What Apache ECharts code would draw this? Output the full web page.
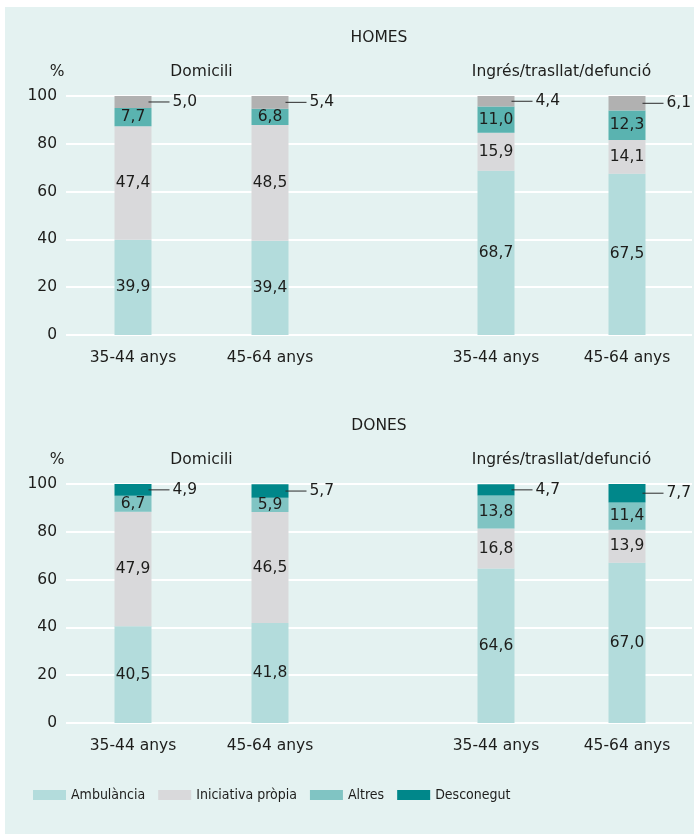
<!DOCTYPE html>
<html>
<head>
<meta charset="utf-8">
<script src="https://cdn.jsdelivr.net/npm/echarts@6/dist/echarts.min.js"></script>
<style>
html,body{margin:0;padding:0;background:#fff;}
#bg{position:absolute;left:5px;top:7px;width:689px;height:827px;background:#e4f2f1;}
#chart{position:absolute;left:0;top:0;width:694px;height:834px;}
</style>
</head>
<body>
<div id="bg"></div>
<div id="chart"></div>
<script>
// ---- data ----
const ageGroups = ['35-44 anys', '45-64 anys'];
const seriesNames = ['Ambulància', 'Iniciativa pròpia', 'Altres', 'Desconegut'];
const yTicks = [0, 20, 40, 60, 80, 100];
const panelTitles = ['HOMES', 'DONES'];
const groupTitles = ['Domicili', 'Ingrés/trasllat/defunció'];

// HOMES
const homesDomAmbulancia = [39.9, 39.4];
const homesDomIniciativa = [47.4, 48.5];
const homesDomAltres = [7.7, 6.8];
const homesDomDesconegut = [5.0, 5.4];
const homesIngAmbulancia = [68.7, 67.5];
const homesIngIniciativa = [15.9, 14.1];
const homesIngAltres = [11.0, 12.3];
const homesIngDesconegut = [4.4, 6.1];
// DONES
const donesDomAmbulancia = [40.5, 41.8];
const donesDomIniciativa = [47.9, 46.5];
const donesDomAltres = [6.7, 5.9];
const donesDomDesconegut = [4.9, 5.7];
const donesIngAmbulancia = [64.6, 67.0];
const donesIngIniciativa = [16.8, 13.9];
const donesIngAltres = [13.8, 11.4];
const donesIngDesconegut = [4.7, 7.7];

// ---- styles ----
const FONT = 'DejaVu Sans';
const FS = 15.5;
const TXT = '#1d1d1b';
const colorsDones = ['#b3dcdc', '#d9d9db', '#80c4c3', '#00878a'];
const colorsHomes = ['#b3dcdc', '#d9d9db', '#5ab3b0', '#b1b1b1'];
const fmt = v => v.toFixed(1).replace('.', ',');

const panels = [
  { top: 484, title: panelTitles[1], colors: colorsDones,
    groups: [[donesDomAmbulancia, donesDomIniciativa, donesDomAltres, donesDomDesconegut],
             [donesIngAmbulancia, donesIngIniciativa, donesIngAltres, donesIngDesconegut]] },
  { top: 96, title: panelTitles[0], colors: colorsHomes,
    groups: [[homesDomAmbulancia, homesDomIniciativa, homesDomAltres, homesDomDesconegut],
             [homesIngAmbulancia, homesIngIniciativa, homesIngAltres, homesIngDesconegut]] }
];

const grid = [], xAxis = [], yAxis = [], series = [], graphic = [];
const H = 239;
const groupGeom = [{ left: 64.5, width: 274 }, { left: 430.5, width: 262 }];

panels.forEach((p, pi) => {
  const gBg = grid.length;
  grid.push({ left: 66, right: 2, top: p.top, height: H });
  xAxis.push({ gridIndex: gBg, type: 'value', min: 0, max: 1, show: false });
  yAxis.push({
    gridIndex: gBg, type: 'value', min: yTicks[0], max: yTicks[yTicks.length - 1], interval: 20,
    axisLine: { show: false }, axisTick: { show: false },
    axisLabel: { margin: 9, fontFamily: FONT, fontSize: FS, color: TXT },
    splitLine: { lineStyle: { color: '#ffffff', width: 1.8 } }
  });
  graphic.push({ type: 'text', x: 379, y: p.top - 58, style: { text: p.title, fontFamily: FONT, fontSize: FS, fill: TXT, textAlign: 'center', textVerticalAlign: 'middle' } });
  graphic.push({ type: 'text', x: 57, y: p.top - 24, style: { text: '%', fontFamily: FONT, fontSize: FS, fill: TXT, textAlign: 'center', textVerticalAlign: 'middle' } });

  p.groups.forEach((grp, gi) => {
    const gIdx = grid.length;
    grid.push({ left: groupGeom[gi].left, width: groupGeom[gi].width, top: p.top, height: H });
    xAxis.push({
      gridIndex: gIdx, type: 'category', data: ageGroups,
      axisLine: { show: false }, axisTick: { show: false },
      axisLabel: { margin: 15, fontFamily: FONT, fontSize: FS, color: TXT }
    });
    yAxis.push({ gridIndex: gIdx, type: 'value', min: 0, max: 100, show: false, splitLine: { show: false } });
    graphic.push({ type: 'text', x: groupGeom[gi].left + groupGeom[gi].width / 2, y: p.top - 24,
      style: { text: groupTitles[gi], fontFamily: FONT, fontSize: FS, fill: TXT, textAlign: 'center', textVerticalAlign: 'middle' } });
    const stackId = 's' + pi + '_' + gi;
    grp.forEach((vals, si) => {
      const isLast = si === 3;
      series.push({
        type: 'bar', name: seriesNames[si], xAxisIndex: gIdx, yAxisIndex: gIdx,
        stack: stackId, barWidth: 37, data: vals,
        itemStyle: { color: p.colors[si] },
        emphasis: { disabled: true },
        label: isLast ? {
          show: true, position: 'right', distance: 0, offset: [-3, 0],
          formatter: prm => '{l|}{v|' + fmt(prm.value) + '}',
          rich: {
            l: { width: 21, height: 1, backgroundColor: '#2a2a2a' },
            v: { padding: [0, 0, 0, 3], fontFamily: FONT, fontSize: FS, color: TXT }
          }
        } : {
          show: true, position: 'inside', fontFamily: FONT, fontSize: FS, color: TXT,
          formatter: prm => fmt(prm.value)
        }
      });
    });
  });
});

const chart = echarts.init(document.getElementById('chart'), null, { renderer: 'canvas' });
chart.setOption({
  animation: false,
  backgroundColor: 'transparent',
  grid, xAxis, yAxis, series, graphic,
  legend: {
    data: seriesNames, left: 33, top: 788, padding: 0, itemWidth: 33, itemHeight: 10, itemGap: 13,
    icon: 'rect', selectedMode: false,
    textStyle: { fontFamily: 'DejaVu Sans Condensed, DejaVu Sans, sans-serif', fontSize: 14, color: TXT }
  }
});
</script>
</body>
</html>
